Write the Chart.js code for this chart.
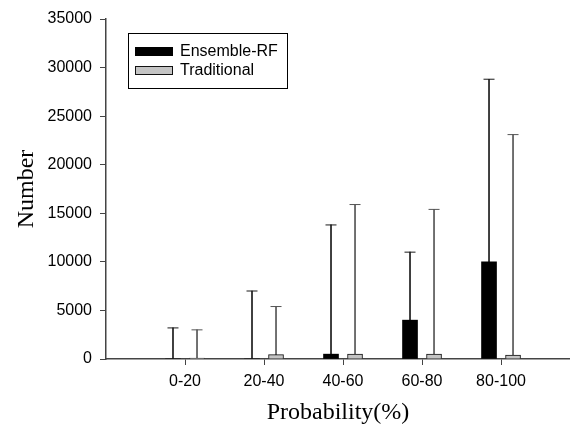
<!DOCTYPE html>
<html>
<head>
<meta charset="utf-8">
<script src="https://cdn.jsdelivr.net/npm/chart.js@4/dist/chart.umd.min.js"></script>
<style>
html,body{margin:0;padding:0;background:#fff;}
#wrap{width:570px;height:426px;position:relative;}
</style>
</head>
<body>
<div id="wrap"><canvas id="c" width="570" height="426"></canvas></div>
<script>
const categories = ['0-20', '20-40', '40-60', '60-80', '80-100'];
const seriesNames = ['Ensemble-RF', 'Traditional'];
const ensembleValues = [0, 0, 500, 4000, 10000];
const ensembleUpper = [3200, 7000, 13800, 11000, 28800];
const traditionalValues = [100, 450, 500, 500, 400];
const traditionalUpper = [3000, 5400, 15900, 15400, 23100];
const yTicks = [0, 5000, 10000, 15000, 20000, 25000, 30000, 35000];

const OFF = 0.152;
const xs = (i, s) => i + (s === 0 ? -OFF : OFF);

function barData(vals, s) { return vals.map((v, i) => ({x: xs(i, s), y: v})); }
function errData(vals, ups, s) { return vals.map((v, i) => ({x: xs(i, s), y: [v, ups[i]]})); }
function capData(ups, s) { return ups.map((u, i) => ({x: xs(i, s), y: u})); }

const colors = {
  ensFill: '#000000', tradFill: '#c4c4c4', tradBorder: '#111111',
  ensErr: '#1a1a1a', tradErr: '#555555', axis: '#444444'
};

const legendPlugin = {
  id: 'boxLegend',
  afterDraw(chart) {
    const ctx = chart.ctx;
    ctx.save();
    ctx.strokeStyle = '#000';
    ctx.lineWidth = 1;
    ctx.strokeRect(128.5, 33.5, 159, 55);
    ctx.fillStyle = colors.ensFill;
    ctx.fillRect(135, 47, 38, 9);
    ctx.fillStyle = colors.tradFill;
    ctx.fillRect(135.5, 66.5, 37, 8);
    ctx.strokeStyle = colors.tradBorder;
    ctx.strokeRect(135.5, 66.5, 37, 8);
    ctx.fillStyle = '#000';
    ctx.font = '16px "Liberation Sans", Arial, sans-serif';
    ctx.textBaseline = 'middle';
    ctx.textAlign = 'left';
    ctx.fillText(seriesNames[0], 180, 52);
    ctx.fillText(seriesNames[1], 180, 71);
    ctx.restore();
  }
};

new Chart(document.getElementById('c'), {
  type: 'bar',
  data: {
    datasets: [
      {label: seriesNames[0] + ' err', data: errData(ensembleValues, ensembleUpper, 0), backgroundColor: colors.ensErr, barThickness: 1, borderWidth: 0, grouped: false, order: 3},
      {label: seriesNames[1] + ' err', data: errData(traditionalValues, traditionalUpper, 1), backgroundColor: colors.tradErr, barThickness: 1, borderWidth: 0, grouped: false, order: 3},
      {label: seriesNames[0], data: barData(ensembleValues, 0), backgroundColor: colors.ensFill, borderColor: colors.ensFill, borderWidth: 0, barThickness: 15, grouped: false, order: 1},
      {label: seriesNames[1], data: barData(traditionalValues, 1), backgroundColor: colors.tradFill, borderColor: colors.tradBorder, borderWidth: 1, barThickness: 15, grouped: false, order: 1},
      {type: 'scatter', label: 'cap1', data: capData(ensembleUpper, 0), pointStyle: 'line', pointRadius: 5.5, borderColor: colors.ensErr, borderWidth: 1, order: 0},
      {type: 'scatter', label: 'cap2', data: capData(traditionalUpper, 1), pointStyle: 'line', pointRadius: 5.5, borderColor: colors.tradErr, borderWidth: 1, order: 0}
    ]
  },
  options: {
    responsive: false,
    animation: false,
    events: [],
    layout: {autoPadding: false, padding: {top: 19, right: 0, left: 0, bottom: 0}},
    plugins: {legend: {display: false}, tooltip: {enabled: false}},
    scales: {
      x: {
        type: 'linear',
        min: -1,
        max: 4.873,
        offset: false,
        afterBuildTicks(scale) { scale.ticks = categories.map((c, i) => ({value: i})); },
        afterFit(scale) { scale.height = 67; scale.paddingLeft = 0; scale.paddingRight = 0; },
        ticks: {
          callback: (v) => categories[v] !== undefined ? categories[v] : '',
          color: '#000',
          font: {family: '"Liberation Sans", Arial, sans-serif', size: 16},
          padding: 7,
          maxRotation: 0,
          autoSkip: false
        },
        grid: {display: true, offset: false, drawOnChartArea: false, drawTicks: true, tickLength: 6, color: colors.axis},
        border: {display: true, color: colors.axis, width: 1.5},
        title: {display: true, text: 'Probability(%)', color: '#000', font: {family: '"Liberation Serif", "Times New Roman", serif', size: 24}, padding: {top: 0, bottom: -1}}
      },
      y: {
        min: 0,
        max: 35000,
        afterBuildTicks(scale) { scale.ticks = yTicks.map(v => ({value: v})); },
        afterFit(scale) { scale.width = 106; },
        ticks: {
          callback: (v) => String(v),
          color: '#000',
          font: {family: '"Liberation Sans", Arial, sans-serif', size: 16},
          padding: 8
        },
        grid: {display: true, offset: false, drawOnChartArea: false, drawTicks: true, tickLength: 6, color: colors.axis},
        border: {display: true, color: colors.axis, width: 1.5},
        title: {display: true, text: 'Number', color: '#000', font: {family: '"Liberation Serif", "Times New Roman", serif', size: 24}, padding: {top: 12, bottom: 0}}
      }
    }
  },
  plugins: [legendPlugin]
});
</script>
</body>
</html>
